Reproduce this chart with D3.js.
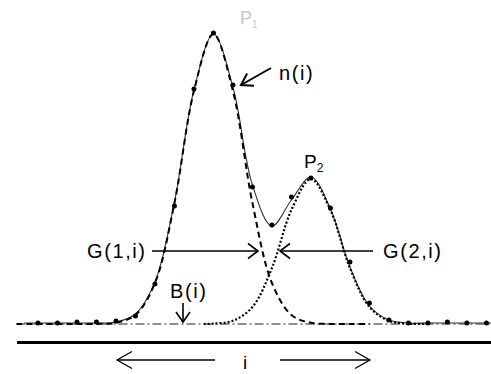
<!DOCTYPE html>
<html>
<head>
<meta charset="utf-8">
<script src="https://cdn.jsdelivr.net/npm/d3@7"></script>
<style>
  body { margin: 0; background: #fff; }
  svg { display: block; }
  text { font-family: "Liberation Sans", Arial, sans-serif; fill: #000; }
  .lbl { font-size: 20px; letter-spacing: 1.6px; }
</style>
</head>
<body>
<div id="chart"></div>
<script>
// measured counts n(i), one per channel
const pointIdx = [0,1,2,3,4,5,6,7,8,9,10,11,12,13,14,15,16,17,18,19,20,21,22,23];
const nValues = [1,1,2,2,3,8,40,118,235,291,239,137,99,127,146,116,62,21,4,1,1,2,1,1];

// first peak G(1,i)
const g1Idx = [-1.1,0,1,2,3,4,5,6,7,8,9,10,11,12,13,14,15,16,17];
const g1Values = [0,0,0,0,0.1,1.2,9,41,121,233,290,233,121,41,9,1.2,0.1,0,0];

// second peak G(2,i)
const g2Idx = [8.5,9,10,11,12,13,14,15,16,17,18,19,20];
const g2Values = [0,0.4,3.2,17,56,114,145,114,56,17,3.2,0.4,0];

// fitted sum, thin solid line
const fitIdx = [-0.7,0,1,2,3,4,5,6,7,8,9,10,11,12,13,14,15,16,17,18,19,20,21,22,23,23.25];
const fitValues = [1,1,1,1,1,2,10,42,122,234,290,237,139,98,124,147,115,57,18,4,1,1,1,1,1,1];

// background B(i)
const baseIdx = [-1.1, 23.25];
const baseValues = [0, 0];

const width = 491, height = 374;

const svg = d3.select("#chart")
    .append("svg")
    .attr("width", width)
    .attr("height", height);

const x = d3.scaleLinear().domain([-1.1, 23.25]).range([16.5, 491.3]);
const y = d3.scaleLinear().domain([0, 291]).range([324, 33]);

const curve = d3.curveCatmullRom.alpha(0.5);
const lineOf = (idx, vals) => d3.line()
    .x((d, i) => x(idx[i]))
    .y(d => y(d))
    .curve(curve)(vals);

//axis line under the spectrum
svg.append("g")
    .attr("transform", "translate(0,342)")
    .call(d3.axisBottom(x).tickValues([]).tickSizeOuter(0))
    .select(".domain")
    .attr("stroke", "#000")
    .attr("stroke-width", 3);

//background, dash-dot
svg.append("path")
    .attr("d", d3.line().x((d, i) => x(baseIdx[i])).y(d => y(d))(baseValues))
    .attr("fill", "none")
    .attr("stroke", "#222")
    .attr("stroke-width", 1)
    .attr("stroke-dasharray", "9,3,2,3");

//fitted sum
svg.append("path")
    .attr("d", lineOf(fitIdx, fitValues))
    .attr("fill", "none")
    .attr("stroke", "#333")
    .attr("stroke-width", 1.1);

//G(1,i) dashed
svg.append("path")
    .attr("d", lineOf(g1Idx, g1Values))
    .attr("fill", "none")
    .attr("stroke", "#000")
    .attr("stroke-width", 2)
    .attr("stroke-dasharray", "6,4");

//G(2,i) dotted
svg.append("path")
    .attr("d", lineOf(g2Idx, g2Values))
    .attr("fill", "none")
    .attr("stroke", "#000")
    .attr("stroke-width", 2.2)
    .attr("stroke-dasharray", "2,2");

//data points
svg.selectAll("circle.pt")
    .data(nValues)
    .enter().append("circle")
    .attr("class", "pt")
    .attr("cx", (d, i) => x(pointIdx[i]))
    .attr("cy", d => y(d))
    .attr("r", 2.5)
    .attr("fill", "#000");

// open-headed arrow helper
function arrow(x1, y1, x2, y2, len, half, sw) {
    const a = Math.atan2(y2 - y1, x2 - x1);
    const c = Math.cos(a), s = Math.sin(a);
    svg.append("line")
        .attr("x1", x1).attr("y1", y1).attr("x2", x2).attr("y2", y2)
        .attr("stroke", "#000").attr("stroke-width", sw);
    svg.append("path")
        .attr("d", "M" + (x2 - len * c + half * s) + "," + (y2 - len * s - half * c)
            + "L" + x2 + "," + y2
            + "L" + (x2 - len * c - half * s) + "," + (y2 - len * s + half * c))
        .attr("fill", "none")
        .attr("stroke", "#000")
        .attr("stroke-width", sw);
}

//labels
svg.append("text").attr("class", "lbl").attr("x", 279).attr("y", 80).text("n(i)");
arrow(271, 68, 241, 85, 11, 7, 2);

svg.append("text").attr("class", "lbl").attr("x", 87).attr("y", 258).text("G(1,i)");
arrow(152, 251, 258, 251, 10, 7.5, 1.6);

svg.append("text").attr("class", "lbl").attr("x", 383).attr("y", 258).text("G(2,i)");
arrow(373, 251, 280, 251, 10, 7.5, 1.6);

svg.append("text").attr("class", "lbl").attr("x", 170).attr("y", 298).text("B(i)");
arrow(183, 303, 183, 322, 10, 7, 1.6);

// channel direction
arrow(215, 360, 117, 360, 15, 8.5, 1.3);
arrow(280, 360, 370, 360, 15, 8.5, 1.3);
svg.append("text").attr("x", 245).attr("y", 369).attr("font-size", 19)
    .attr("text-anchor", "middle").text("i");

// peak names
const p1 = svg.append("text").attr("x", 240).attr("y", 24).attr("font-size", 18)
    .style("fill", "#c8c8c8");
p1.append("tspan").text("P");
p1.append("tspan").attr("font-size", 10).attr("dy", 4).text("1");

const p2 = svg.append("text").attr("x", 304).attr("y", 168).attr("font-size", 19);
p2.append("tspan").text("P");
p2.append("tspan").attr("font-size", 12).attr("dy", 4).text("2");
</script>
</body>
</html>
